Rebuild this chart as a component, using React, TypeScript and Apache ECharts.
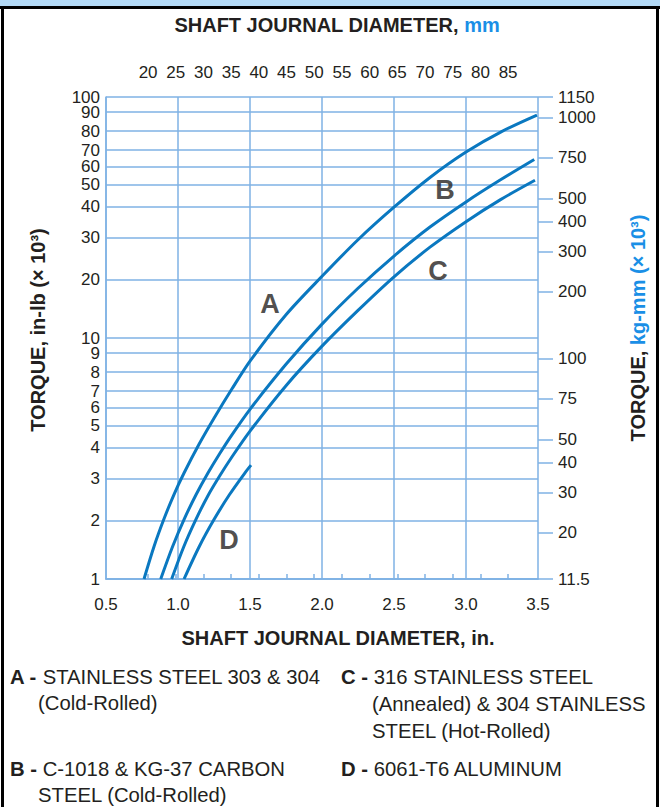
import React, { useEffect, useRef } from "react";
import * as echarts from "echarts";

// ---------- data ----------
const LEFT_TICKS = [1, 2, 3, 4, 5, 6, 7, 8, 9, 10, 20, 30, 40, 50, 60, 70, 80, 90, 100];
const RIGHT_TICKS = [11.5, 20, 30, 40, 50, 75, 100, 200, 300, 400, 500, 750, 1000, 1150];
const TOP_TICKS = [20, 25, 30, 35, 40, 45, 50, 55, 60, 65, 70, 75, 80, 85];
const KG_MM_PER_IN_LB = 11.5;
// the figure's mm scale as printed along the top edge (value at the left and right plot edges)
const TOP_MM_MIN = 12.4;
const TOP_MM_MAX = 90.4;

// torque scale as printed: fraction of a decade at which each mantissa's line sits
const MANTISSA = [1, 2, 3, 4, 5, 6, 7, 8, 9, 10];
const DECADE_FRACTION = [0, 0.241, 0.418, 0.546, 0.636, 0.711, 0.78, 0.858, 0.937, 1];

// curves: shaft diameter (in.) and torque (in-lb x 10^3)
const A_DIAM = [0.764, 0.833, 0.903, 0.972, 1.042, 1.146, 1.25, 1.375, 1.5, 1.75, 2.0, 2.25, 2.5, 2.75, 3.0, 3.247, 3.493];
const A_TORQUE = [1, 1.47, 2.04, 2.57, 3.15, 4.13, 5.39, 7.11, 8.57, 13.2, 20.7, 29.3, 39.7, 53.8, 68.7, 79.8, 88.4];
const B_DIAM = [0.88, 0.962, 1.044, 1.126, 1.208, 1.29, 1.372, 1.5, 1.75, 2.0, 2.25, 2.5, 2.75, 3.0, 3.237, 3.474];
const B_TORQUE = [1, 1.47, 2.04, 2.57, 3.15, 3.78, 4.53, 5.9, 8.4, 11.8, 18.1, 25.1, 33.0, 41.9, 52.4, 64.1];
const C_DIAM = [0.956, 1.04, 1.123, 1.206, 1.29, 1.373, 1.5, 1.75, 2.0, 2.25, 2.5, 2.75, 3.0, 3.24, 3.479];
const C_TORQUE = [1, 1.47, 2.02, 2.53, 3.07, 3.65, 4.73, 7.27, 9.45, 13.9, 20.6, 27.3, 34.7, 42.9, 52.3];
const D_DIAM = [1.042, 1.147, 1.253, 1.358, 1.464, 1.507];
const D_TORQUE = [1, 1.47, 2.04, 2.57, 3.15, 3.39];

const CURVE_LETTERS = ["A", "B", "C", "D"];
const LETTER_DIAM = [1.639, 2.854, 2.806, 1.354];
const LETTER_TORQUE = [15.0, 47.2, 21.8, 1.6];

// ---------- scale helpers ----------
function toPos(v: number): number {
  let d = Math.floor(Math.log10(v) + 1e-9);
  let m = v / Math.pow(10, d);
  if (m >= 10 - 1e-9) { m /= 10; d += 1; }
  if (m < 1) m = 1;
  let i = 0;
  while (i < MANTISSA.length - 2 && m > MANTISSA[i + 1]) i++;
  const a = MANTISSA[i], b = MANTISSA[i + 1];
  const t = Math.log(m / a) / Math.log(b / a);
  return d + DECADE_FRACTION[i] + (DECADE_FRACTION[i + 1] - DECADE_FRACTION[i]) * t;
}
function fromPos(p: number): number {
  let d = Math.floor(p + 1e-9);
  let f = p - d;
  if (f < 0) f = 0;
  let i = 0;
  while (i < DECADE_FRACTION.length - 2 && f > DECADE_FRACTION[i + 1]) i++;
  const fa = DECADE_FRACTION[i], fb = DECADE_FRACTION[i + 1];
  const a = MANTISSA[i], b = MANTISSA[i + 1];
  const m = a * Math.pow(b / a, (f - fa) / (fb - fa));
  return m * Math.pow(10, d);
}
function nearest(list: number[], v: number): number {
  let best = list[0];
  for (const x of list) if (Math.abs(x - v) < Math.abs(best - v)) best = x;
  return best;
}

// ---------- style ----------
const TEXT = "#231f20";
const GRID = "#7fb2e5";
const CURVE = "#0a78c0";
const ACCENT = "#1a8fe6";
const FONT = "'Liberation Sans', Arial, Helvetica, sans-serif";
const LEGEND_SIZE = 20.3;
const TICK_SIZE = 17;

export default function App() {
  const ref = useRef<HTMLDivElement>(null);
  useEffect(() => {
    if (!ref.current) return;
    const chart = echarts.init(ref.current, undefined, { renderer: "svg" });
    const leftPos = LEFT_TICKS.map(toPos);
    const topLeft = leftPos[leftPos.length - 1];
    const leftLabelPos = leftPos.slice(0, -1);
    const rightPos = RIGHT_TICKS.map((k) => toPos(k / KG_MM_PER_IN_LB));
    const mk = (xs: number[], ys: number[]) => xs.map((x, i) => [x, toPos(ys[i])]);
    const lineSeries = (name: string, data: number[][]) => ({
      name,
      type: "line",
      data,
      showSymbol: false,
      smooth: 0.3,
      silent: true,
      lineStyle: { color: CURVE, width: 3 },
      xAxisIndex: 0,
      yAxisIndex: 0,
    });
    const legendText = (x: number, y: number, head: string, body: string) => ({
      type: "text",
      x,
      y,
      style: {
        text: head ? `{h|${head}}{t|${body}}` : `{t|${body}}`,
        verticalAlign: "middle",
        rich: {
          h: { fontFamily: FONT, fontSize: LEGEND_SIZE, fontWeight: "bold", fill: TEXT },
          t: { fontFamily: FONT, fontSize: LEGEND_SIZE, fill: TEXT },
        },
      },
    });
    const tickLabel = {
      color: TEXT,
      fontSize: TICK_SIZE,
      fontFamily: FONT,
      lineHeight: 13,
      showMinLabel: true,
      showMaxLabel: true,
    };
    const leftFormatter = (v: number) => String(nearest(LEFT_TICKS, fromPos(v)));
    const option: any = {
      animation: false,
      backgroundColor: "#ffffff",
      grid: { left: 106, top: 97, width: 432, height: 482, containLabel: false },
      xAxis: [
        {
          type: "value",
          position: "bottom",
          min: 0.5,
          max: 3.5,
          interval: 0.5,
          axisLine: { show: true, lineStyle: { color: GRID, width: 1.5 } },
          axisTick: { show: false },
          axisLabel: { ...tickLabel, lineHeight: 18, formatter: (v: number) => v.toFixed(1), margin: 16 },
          splitLine: { show: true, lineStyle: { color: GRID, width: 1.5 } },
        },
        {
          type: "value",
          position: "top",
          min: TOP_MM_MIN,
          max: TOP_MM_MAX,
          axisLine: { show: true, lineStyle: { color: GRID, width: 1.5 } },
          axisTick: { show: true, inside: false, length: 5, customValues: TOP_TICKS, lineStyle: { color: GRID, width: 1.5 } },
          axisLabel: { ...tickLabel, lineHeight: 18, customValues: TOP_TICKS, margin: 16 },
          splitLine: { show: false },
        },
      ],
      yAxis: [
        {
          type: "value",
          position: "left",
          min: 0,
          max: 2,
          axisLine: { show: true, lineStyle: { color: GRID, width: 1.5 } },
          axisTick: { show: false, customValues: leftPos },
          axisLabel: { ...tickLabel, customValues: leftLabelPos, formatter: leftFormatter, margin: 6 },
          splitLine: { show: true, lineStyle: { color: GRID, width: 1.5 } },
        },
        {
          type: "value",
          position: "right",
          min: 0,
          max: 2,
          axisLine: { show: false },
          axisTick: { show: true, inside: false, length: 15, customValues: rightPos, lineStyle: { color: GRID, width: 1.5 } },
          axisLabel: {
            ...tickLabel,
            customValues: rightPos,
            formatter: (v: number) => String(nearest(RIGHT_TICKS, fromPos(v) * KG_MM_PER_IN_LB)),
            margin: 20,
          },
          splitLine: { show: false },
        },
        {
          // carries only the top label of the left scale, so it is never dropped for touching "90"
          type: "value",
          position: "left",
          min: 0,
          max: 2,
          axisLine: { show: false },
          axisTick: { show: false, customValues: [topLeft] },
          axisLabel: { ...tickLabel, customValues: [topLeft], formatter: leftFormatter, margin: 6 },
          splitLine: { show: false },
        },
      ],
      series: [
        lineSeries("A", mk(A_DIAM, A_TORQUE)),
        lineSeries("B", mk(B_DIAM, B_TORQUE)),
        lineSeries("C", mk(C_DIAM, C_TORQUE)),
        lineSeries("D", mk(D_DIAM, D_TORQUE)),
        {
          type: "scatter",
          silent: true,
          symbol: "circle",
          symbolSize: 1,
          itemStyle: { color: "transparent" },
          data: CURVE_LETTERS.map((n, i) => ({ name: n, value: [LETTER_DIAM[i], toPos(LETTER_TORQUE[i])] })),
          label: {
            show: true,
            position: "inside",
            formatter: (p: any) => p.name,
            fontSize: 27,
            fontWeight: "bold",
            fontFamily: FONT,
            color: TEXT,
          },
        },
      ],
      graphic: [
        { type: "rect", shape: { x: 0, y: 0, width: 660, height: 6 }, style: { fill: "#b3daf7" } },
        { type: "rect", shape: { x: 0, y: 6, width: 660, height: 3 }, style: { fill: "#000" } },
        { type: "rect", shape: { x: 1, y: 6, width: 3, height: 801 }, style: { fill: "#000" } },
        { type: "rect", shape: { x: 656, y: 6, width: 3, height: 801 }, style: { fill: "#000" } },
        {
          type: "text",
          x: 337,
          y: 25,
          style: {
            text: "{a|SHAFT JOURNAL DIAMETER, }{b|mm}",
            align: "center",
            verticalAlign: "middle",
            rich: {
              a: { fontFamily: FONT, fontSize: 20, fontWeight: "bold", fill: TEXT },
              b: { fontFamily: FONT, fontSize: 20, fontWeight: "bold", fill: ACCENT },
            },
          },
        },
        {
          type: "text",
          x: 338,
          y: 638,
          style: {
            text: "SHAFT JOURNAL DIAMETER, in.",
            align: "center",
            verticalAlign: "middle",
            font: `bold 20px ${FONT}`,
            fill: TEXT,
          },
        },
        {
          type: "text",
          x: 38,
          y: 330,
          rotation: Math.PI / 2,
          style: {
            text: "TORQUE, in-lb (× 10³)",
            align: "center",
            verticalAlign: "middle",
            font: `bold 20px ${FONT}`,
            fill: TEXT,
          },
        },
        {
          type: "text",
          x: 638,
          y: 328,
          rotation: Math.PI / 2,
          style: {
            text: "{a|TORQUE, }{b|kg-mm (× 10³)}",
            align: "center",
            verticalAlign: "middle",
            rich: {
              a: { fontFamily: FONT, fontSize: 20, fontWeight: "bold", fill: TEXT },
              b: { fontFamily: FONT, fontSize: 20, fontWeight: "bold", fill: ACCENT },
            },
          },
        },
        legendText(10, 677, "A - ", "STAINLESS STEEL 303 & 304"),
        legendText(38, 703, "", "(Cold-Rolled)"),
        legendText(10, 769, "B - ", "C-1018 & KG-37 CARBON"),
        legendText(38, 795, "", "STEEL (Cold-Rolled)"),
        legendText(341, 677, "C - ", "316 STAINLESS STEEL"),
        legendText(372, 704, "", "(Annealed) & 304 STAINLESS"),
        legendText(372, 731, "", "STEEL (Hot-Rolled)"),
        legendText(341, 769, "D - ", "6061-T6 ALUMINUM"),
      ],
    };
    chart.setOption(option);
    return () => chart.dispose();
  }, []);
  return (
    <div
      ref={ref}
      style={{ position: "fixed", left: 0, top: 0, width: 660, height: 807, background: "#fff" }}
    />
  );
}
